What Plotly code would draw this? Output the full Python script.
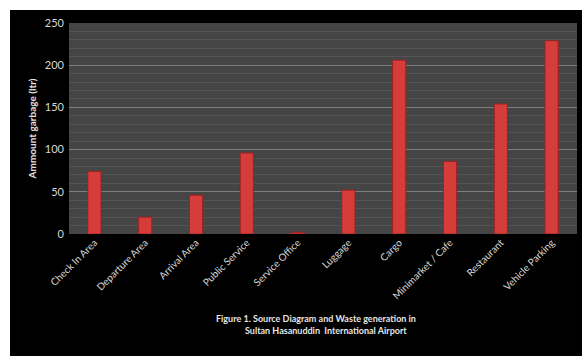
import plotly.graph_objects as go

categories = ["Check In Area", "Departure Area", "Arrival Area", "Public Service",
              "Service Office", "Luggage", "Cargo", "Minimarket / Cafe",
              "Restaurant", "Vehicle Parking"]
values = [74, 20, 46, 96, 2, 52, 206, 86, 154, 229]
y_ticks = [0, 50, 100, 150, 200, 250]

W, H = 582, 356
L, R, T, B = 69, 5, 23, 122  # plot area: x 69..577, y 23..234
pw, ph = W - L - R, H - T - B

def px_x(p):
    return (p - L) / pw

def px_y(p):
    return (H - B - p) / ph

fig = go.Figure()
fig.add_trace(go.Bar(
    x=categories, y=values,
    marker=dict(color="#d63c3a", line=dict(color="#9c2222", width=1)),
    width=0.26,
))

white_strips = [
    dict(type="rect", xref="paper", yref="paper",
         x0=px_x(-5), x1=px_x(10), y0=px_y(H + 5), y1=px_y(-5),
         fillcolor="white", line=dict(width=0), layer="below"),
    dict(type="rect", xref="paper", yref="paper",
         x0=px_x(-5), x1=px_x(W + 5), y0=px_y(10), y1=px_y(-5),
         fillcolor="white", line=dict(width=0), layer="below"),
]

fig.update_layout(
    width=W, height=H,
    margin=dict(l=L, r=R, t=T, b=B, pad=0),
    paper_bgcolor="black",
    plot_bgcolor="#454545",
    showlegend=False,
    font=dict(family="Lato", color="#dcdcdc", size=10),
    shapes=white_strips,
    annotations=[dict(
        text="<b>Figure 1. Source Diagram and Waste generation in</b><br><b>         Sultan Hasanuddin  International Airport</b>",
        xref="paper", yref="paper", x=px_x(316), y=px_y(324),
        xanchor="center", yanchor="middle", showarrow=False,
        font=dict(family="Lato", size=9, color="#e6e6e6"), align="center")],
)

fig.update_xaxes(
    tickangle=-45, showgrid=False, zeroline=False, showline=False,
    ticks="", tickfont=dict(family="Lato", size=10, color="#d8d8d8"),
)
fig.update_yaxes(
    range=[0, 250], tickvals=y_ticks, showgrid=True, gridcolor="#7e7e7e", gridwidth=1,
    minor=dict(dtick=10, showgrid=True, gridcolor="#545454", gridwidth=1),
    zeroline=False, showline=False, ticks="", ticklabelstandoff=4,
    tickfont=dict(family="Lato", size=11, color="#d8d8d8"),
    title=dict(text="<b>Ammount garbage (ltr)</b>", standoff=6,
               font=dict(family="Lato", size=10, color="#e0e0e0")),
)

fig.write_html("out.html")
